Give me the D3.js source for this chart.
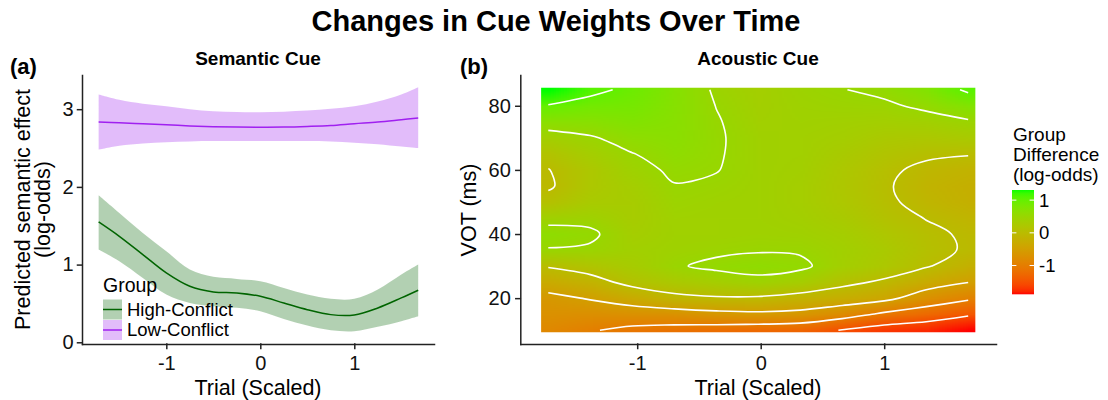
<!DOCTYPE html>
<html>
<head>
<meta charset="utf-8">
<script src="https://cdn.jsdelivr.net/npm/d3@7"></script>
<style>
  body { margin: 0; background: #fff; }
  svg { font-family: "Liberation Sans", Arial, sans-serif; }
  .axis path, .axis line { stroke: #222; stroke-width: 1.5; stroke-linecap: square; }
  .axis text { fill: #111; font-size: 20px; font-family: "Liberation Sans", Arial, sans-serif; }
</style>
</head>
<body>
<script>
// ---- panel (a): predicted semantic effect by scaled trial
const trials = [-1.72, -1.5, -1.25, -1.0, -0.75, -0.5, -0.25, 0, 0.25, 0.5, 0.75, 1.0, 1.25, 1.5, 1.68];
const highFit = [1.549, 1.364, 1.129, 0.893, 0.721, 0.648, 0.635, 0.592, 0.506, 0.42, 0.356, 0.352, 0.442, 0.571, 0.67];
const highLo  = [1.193, 1.043, 0.828, 0.614, 0.507, 0.464, 0.443, 0.400, 0.301, 0.216, 0.156, 0.143, 0.199, 0.272, 0.336];
const highHi  = [1.892, 1.665, 1.408, 1.172, 0.936, 0.842, 0.816, 0.786, 0.700, 0.615, 0.559, 0.559, 0.679, 0.872, 1.0];
const lowFit  = [2.836, 2.825, 2.812, 2.80, 2.785, 2.775, 2.770, 2.768, 2.770, 2.778, 2.79, 2.814, 2.835, 2.865, 2.887];
const lowLo   = [2.48, 2.53, 2.56, 2.576, 2.585, 2.589, 2.59, 2.589, 2.59, 2.589, 2.585, 2.568, 2.55, 2.52, 2.5];
const lowHi   = [3.188, 3.12, 3.07, 3.038, 3.0, 2.974, 2.963, 2.961, 2.968, 2.982, 3.005, 3.038, 3.1, 3.19, 3.283];
const groupNames = ['High-Conflict', 'Low-Conflict'];

// ---- panel (b): group difference (log-odds) over trial x VOT
const heatTrials = [-1.72, -1.38, -1.04, -0.70, -0.36, -0.02, 0.32, 0.66, 1.00, 1.34, 1.68];
const heatVot = [10, 15, 20, 25, 30, 35, 40, 45, 50, 55, 60, 65, 70, 75, 80, 85];
const heatRows = [
  [-0.85, -0.97, -1.1, -1.15, -1.2, -1.25, -1.3, -1.52, -1.7, -1.78, -1.88],   // VOT 10
  [-0.72, -0.75, -0.72, -0.7, -0.62, -0.58, -0.62, -0.8, -1.08, -1.25, -1.45],  // 15
  [-0.6, -0.47, -0.3, -0.1, -0.04, -0.05, -0.15, -0.25, -0.38, -0.72, -0.93],   // 20
  [-0.3, -0.15, 0.12, 0.25, 0.34, 0.42, 0.32, 0.1, -0.06, -0.3, -0.49],         // 25
  [0.03, 0.17, 0.3, 0.47, 0.56, 0.6, 0.56, 0.35, 0.22, 0.03, -0.2],             // 30
  [0.48, 0.46, 0.38, 0.42, 0.45, 0.48, 0.47, 0.38, 0.26, 0.08, -0.03],          // 35
  [0.62, 0.55, 0.33, 0.4, 0.4, 0.42, 0.4, 0.33, 0.2, 0.06, -0.04],              // 40
  [0.4, 0.42, 0.3, 0.41, 0.4, 0.4, 0.36, 0.27, 0.12, -0.01, -0.12],             // 45
  [0.1, 0.28, 0.3, 0.45, 0.42, 0.4, 0.34, 0.22, 0.06, -0.1, -0.2],              // 50
  [-0.04, 0.22, 0.34, 0.49, 0.46, 0.4, 0.34, 0.2, 0.04, -0.14, -0.22],          // 55
  [-0.01, 0.22, 0.42, 0.54, 0.51, 0.4, 0.36, 0.22, 0.07, -0.08, -0.15],         // 60
  [0.14, 0.33, 0.49, 0.62, 0.525, 0.4, 0.37, 0.27, 0.15, 0.06, 0.02],           // 65
  [0.36, 0.47, 0.62, 0.66, 0.53, 0.4, 0.38, 0.33, 0.25, 0.22, 0.26],            // 70
  [0.66, 0.68, 0.75, 0.68, 0.52, 0.38, 0.4, 0.38, 0.35, 0.38, 0.46],            // 75
  [0.98, 0.88, 0.85, 0.7, 0.495, 0.36, 0.42, 0.44, 0.45, 0.56, 0.74],           // 80
  [1.31, 1.08, 0.93, 0.72, 0.46, 0.35, 0.44, 0.49, 0.57, 0.75, 1.06]            // 85
];
const contourLevels = [-1.5, -1, -0.5, 0, 0.5, 1];

// tick labels
const trialTicks = [-1, 0, 1];
const semTicks = [0, 1, 2, 3];
const votTicks = [20, 40, 60, 80];
const diffTicks = [-1, 0, 1];
const diffTitle = ['Group', 'Difference', '(log-odds)'];

const width = 1108, height = 400;
const svg = d3.select('body').append('svg')
  .attr('width', width)
  .attr('height', height);

svg.append('text')
  .attr('x', 556).attr('y', 31)
  .attr('text-anchor', 'middle')
  .style('font-weight', 'bold').style('font-size', '29px')
  .text('Changes in Cue Weights Over Time');

// ================= panel (a) =================
const xA = d3.scaleLinear().domain([-1.897, 1.848]).range([82, 434]);
const yA = d3.scaleLinear().domain([-0.022, 3.44]).range([344, 75]);
const colors = { 'High-Conflict': '#006400', 'Low-Conflict': '#a020f0' };
const series = [
  { name: groupNames[0], fit: highFit, lo: highLo, hi: highHi },
  { name: groupNames[1], fit: lowFit, lo: lowLo, hi: lowHi }
];

const gA = svg.append('g');

const area = s => d3.area()
  .x((d, i) => xA(trials[i]))
  .y0((d, i) => yA(s.lo[i]))
  .y1((d, i) => yA(s.hi[i]))
  .curve(d3.curveCatmullRom)(trials);
const line = s => d3.line()
  .x((d, i) => xA(trials[i]))
  .y((d, i) => yA(s.fit[i]))
  .curve(d3.curveCatmullRom)(trials);

gA.selectAll('.ribbon')
  .data(series)
  .enter().append('path')
  .attr('class', 'ribbon')
  .attr('d', area)
  .attr('fill', d => colors[d.name])
  .attr('fill-opacity', 0.3);

gA.selectAll('.fit')
  .data(series)
  .enter().append('path')
  .attr('class', 'fit')
  .attr('d', line)
  .attr('fill', 'none')
  .attr('stroke', d => colors[d.name])
  .attr('stroke-width', 1.5);

gA.append('g').attr('class', 'axis')
  .attr('transform', 'translate(0,344)')
  .call(d3.axisBottom(xA).tickValues(trialTicks).tickFormat(d => String(d))
    .tickSize(4.5).tickSizeOuter(0).tickPadding(7.5));
gA.append('g').attr('class', 'axis')
  .attr('transform', 'translate(82,0)')
  .call(d3.axisLeft(yA).tickValues(semTicks).tickFormat(d => String(d))
    .tickSize(4.5).tickSizeOuter(0).tickPadding(4));

gA.append('text')
  .attr('x', 258).attr('y', 395)
  .attr('text-anchor', 'middle').style('font-size', '21.5px')
  .text('Trial (Scaled)');
const ytA = gA.append('text')
  .attr('transform', 'translate(30,209.5) rotate(-90)')
  .attr('text-anchor', 'middle').style('font-size', '21.5px');
ytA.append('tspan').attr('x', 0).attr('y', 0).text('Predicted semantic effect');
ytA.append('tspan').attr('x', 0).attr('y', 20).text('(log-odds)');

svg.append('text').attr('x', 10).attr('y', 74)
  .style('font-weight', 'bold').style('font-size', '22px').text('(a)');
svg.append('text').attr('x', 258).attr('y', 65).attr('text-anchor', 'middle')
  .style('font-weight', 'bold').style('font-size', '19px').text('Semantic Cue');

// legend for panel (a)
const legA = gA.append('g').attr('transform', 'translate(103,0)');
legA.append('text').attr('x', 0).attr('y', 292).style('font-size', '19.5px').text('Group');
const keys = legA.selectAll('.key')
  .data(series)
  .enter().append('g')
  .attr('class', 'key')
  .attr('transform', (d, i) => `translate(0,${299.5 + i * 20.5})`);
keys.append('rect')
  .attr('width', 19).attr('height', 20)
  .attr('fill', d => colors[d.name]).attr('fill-opacity', 0.3);
keys.append('line')
  .attr('x1', 0).attr('x2', 19).attr('y1', 10).attr('y2', 10)
  .attr('stroke', d => colors[d.name]).attr('stroke-width', 1.5);
keys.append('text')
  .attr('x', 24).attr('y', 10).attr('dy', '0.35em')
  .style('font-size', '18.5px')
  .text(d => d.name);

// ================= panel (b) =================
const xB = d3.scaleLinear().domain([-1.9466, 1.9053]).range([520.3, 996]);
const yB = d3.scaleLinear().domain([5.7, 89.6]).range([344, 75]);
const n = heatTrials.length, m = heatVot.length;
const allVals = heatRows.flat();
const zExtent = d3.extent(allVals);
const fill = d3.scaleLinear().domain(zExtent).range(['#ff0000', '#00ff00'])
  .interpolate(d3.interpolateLab);

// grid index -> data (sample i sits at i + 0.5)
const gx = d3.scaleLinear().domain([0.5, n - 0.5]).range([heatTrials[0], heatTrials[n - 1]]);
const gy = d3.scaleLinear().domain([0.5, m - 0.5]).range([heatVot[m - 1], heatVot[0]]);

// raster: one pixel per grid cell, smoothed by the browser when scaled
const canvas = d3.create('canvas').attr('width', n).attr('height', m).node();
const ctx = canvas.getContext('2d');
const img = ctx.createImageData(n, m);
heatRows.forEach((row, j) => {
  const r = m - 1 - j;
  row.forEach((v, i) => {
    const c = d3.rgb(fill(v));
    const k = (r * n + i) * 4;
    img.data[k] = c.r; img.data[k + 1] = c.g; img.data[k + 2] = c.b; img.data[k + 3] = 255;
  });
});
ctx.putImageData(img, 0, 0);

const gB = svg.append('g');
const padX = 0.058, padV = 0.6;
gB.append('clipPath').attr('id', 'rasterClip')
  .append('rect')
  .attr('x', xB(heatTrials[0] - padX))
  .attr('y', yB(heatVot[m - 1] + padV))
  .attr('width', xB(heatTrials[n - 1] + padX) - xB(heatTrials[0] - padX))
  .attr('height', yB(heatVot[0] - padV) - yB(heatVot[m - 1] + padV));
gB.append('image')
  .attr('href', canvas.toDataURL())
  .attr('x', xB(gx(0)))
  .attr('y', yB(gy(0)))
  .attr('width', xB(gx(n)) - xB(gx(0)))
  .attr('height', yB(gy(m)) - yB(gy(0)))
  .attr('preserveAspectRatio', 'none')
  .attr('clip-path', 'url(#rasterClip)');

// contour lines from the same grid
const gridVals = heatRows.slice().reverse().flat();
const bands = d3.contours().size([n, m]).thresholds(contourLevels)(gridVals);
const gxc = gx.copy().clamp(true), gyc = gy.copy().clamp(true);
const onEdge = p => p[0] === 0 || p[0] === n || p[1] === 0 || p[1] === m;
const isolines = [];
bands.forEach(b => b.coordinates.forEach(poly => poly.forEach(ring => {
  const pts = ring.slice();
  const a = pts[0], z = pts[pts.length - 1];
  if (pts.length > 1 && a[0] === z[0] && a[1] === z[1]) pts.pop();
  const k = pts.findIndex(onEdge);
  if (k < 0) { isolines.push({ closed: true, pts }); return; }
  const rot = pts.slice(k).concat(pts.slice(0, k));
  let cur = [];
  rot.forEach(p => {
    if (onEdge(p)) { if (cur.length > 1) isolines.push({ closed: false, pts: cur }); cur = []; }
    else cur.push(p);
  });
  if (cur.length > 1) isolines.push({ closed: false, pts: cur });
})));

const isoPath = d => d3.line()
  .x(p => xB(gxc(p[0])))
  .y(p => yB(gyc(p[1])))
  .curve(d.closed ? d3.curveCatmullRomClosed : d3.curveCatmullRom)(d.pts);
gB.selectAll('.iso')
  .data(isolines)
  .enter().append('path')
  .attr('class', 'iso')
  .attr('d', isoPath)
  .attr('fill', 'none')
  .attr('stroke', '#fff')
  .attr('stroke-width', 1.6);

gB.append('g').attr('class', 'axis')
  .attr('transform', 'translate(0,344)')
  .call(d3.axisBottom(xB).tickValues(trialTicks).tickFormat(d => String(d))
    .tickSize(4.5).tickSizeOuter(0).tickPadding(7.5));
gB.append('g').attr('class', 'axis')
  .attr('transform', 'translate(520.3,0)')
  .call(d3.axisLeft(yB).tickValues(votTicks).tickFormat(d => String(d))
    .tickSize(4.5).tickSizeOuter(0).tickPadding(5));

gB.append('text')
  .attr('x', 758).attr('y', 395)
  .attr('text-anchor', 'middle').style('font-size', '21.5px')
  .text('Trial (Scaled)');
gB.append('text')
  .attr('transform', 'translate(476,210) rotate(-90)')
  .attr('text-anchor', 'middle').style('font-size', '21.5px')
  .text('VOT (ms)');

svg.append('text').attr('x', 460).attr('y', 74)
  .style('font-weight', 'bold').style('font-size', '22px').text('(b)');
svg.append('text').attr('x', 758).attr('y', 65).attr('text-anchor', 'middle')
  .style('font-weight', 'bold').style('font-size', '19px').text('Acoustic Cue');

// colour bar legend
const legB = svg.append('g');
const barX = 1012, barW = 22;
const yBar = d3.scaleLinear().domain(zExtent).range([294.3, 190]);
const grad = svg.append('defs').append('linearGradient')
  .attr('id', 'diffGrad').attr('x1', 0).attr('x2', 0).attr('y1', 1).attr('y2', 0);
grad.selectAll('stop')
  .data(d3.ticks(zExtent[0], zExtent[1], 30).concat(zExtent).sort(d3.ascending))
  .enter().append('stop')
  .attr('offset', d => (d - zExtent[0]) / (zExtent[1] - zExtent[0]))
  .attr('stop-color', d => fill(d));
legB.append('rect')
  .attr('x', barX).attr('y', yBar(zExtent[1]))
  .attr('width', barW).attr('height', yBar(zExtent[0]) - yBar(zExtent[1]))
  .attr('fill', 'url(#diffGrad)');
const bt = legB.selectAll('.btick').data(diffTicks).enter().append('g').attr('class', 'btick');
bt.append('line').attr('x1', barX).attr('x2', barX + 4.4)
  .attr('y1', d => yBar(d)).attr('y2', d => yBar(d))
  .attr('stroke', '#fff').attr('stroke-width', 1);
bt.append('line').attr('x1', barX + barW - 4.4).attr('x2', barX + barW)
  .attr('y1', d => yBar(d)).attr('y2', d => yBar(d))
  .attr('stroke', '#fff').attr('stroke-width', 1);
bt.append('text').attr('x', barX + barW + 5).attr('y', d => yBar(d)).attr('dy', '0.35em')
  .style('font-size', '18.5px').text(d => String(d));
legB.selectAll('.btitle')
  .data(diffTitle)
  .enter().append('text')
  .attr('class', 'btitle')
  .attr('x', 1013).attr('y', (d, i) => 141 + i * 19.8)
  .style('font-size', '19px')
  .text(d => d);
</script>
</body>
</html>
